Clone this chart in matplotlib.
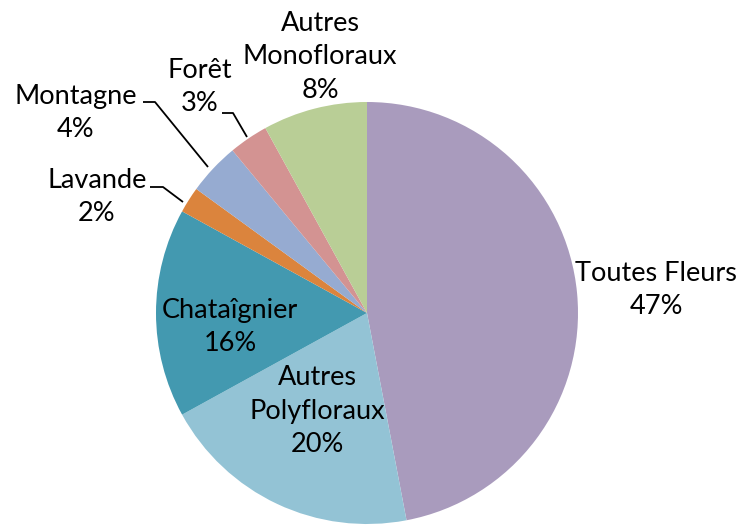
import matplotlib
matplotlib.use("Agg")
import matplotlib.pyplot as plt

categories = ["Toutes Fleurs", "Autres\nPolyfloraux", "Chataîgnier", "Lavande",
              "Montagne", "Forêt", "Autres\nMonofloraux"]
values = [47, 20, 16, 2, 4, 3, 8]
colors = ["#A99BBD", "#93C3D5", "#4399B0", "#DB843D", "#96ABD1", "#D39392", "#B9CE96"]

W, H = 739, 525
fig = plt.figure(figsize=(W / 100, H / 100), dpi=100)
ax = fig.add_axes([0, 0, 1, 1])

cx, cy, r = 367, H - 313, 211
ax.pie(values, colors=colors, startangle=90, counterclock=False,
       center=(cx, cy), radius=r, frame=True,
       wedgeprops=dict(linewidth=0))
ax.set_xlim(0, W)
ax.set_ylim(0, H)
ax.set_aspect("equal")
ax.axis("off")

# label positions (pixel coords, top origin)
label_pos = [(656, 290), (317, 411), (230, 327), (97, 197), (76, 113), (200, 87), (320, 57)]
fs = 19.5
for cat, v, (x, y) in zip(categories, values, label_pos):
    ax.text(x, H - y, f"{cat}\n{v}%", ha="center", va="center", fontsize=fs,
            family="Lato", linespacing=1.42, color="black")

leaders = [
    [(150, 187), (163, 187), (183, 202)],
    [(143, 102), (155, 102), (208, 167)],
    [(222, 113), (233, 113), (247, 137)],
]
for pts in leaders:
    xs = [p[0] for p in pts]
    ys = [H - p[1] for p in pts]
    ax.plot(xs, ys, color="black", linewidth=1.3, solid_capstyle="butt")

fig.savefig("out.png", dpi=100)
